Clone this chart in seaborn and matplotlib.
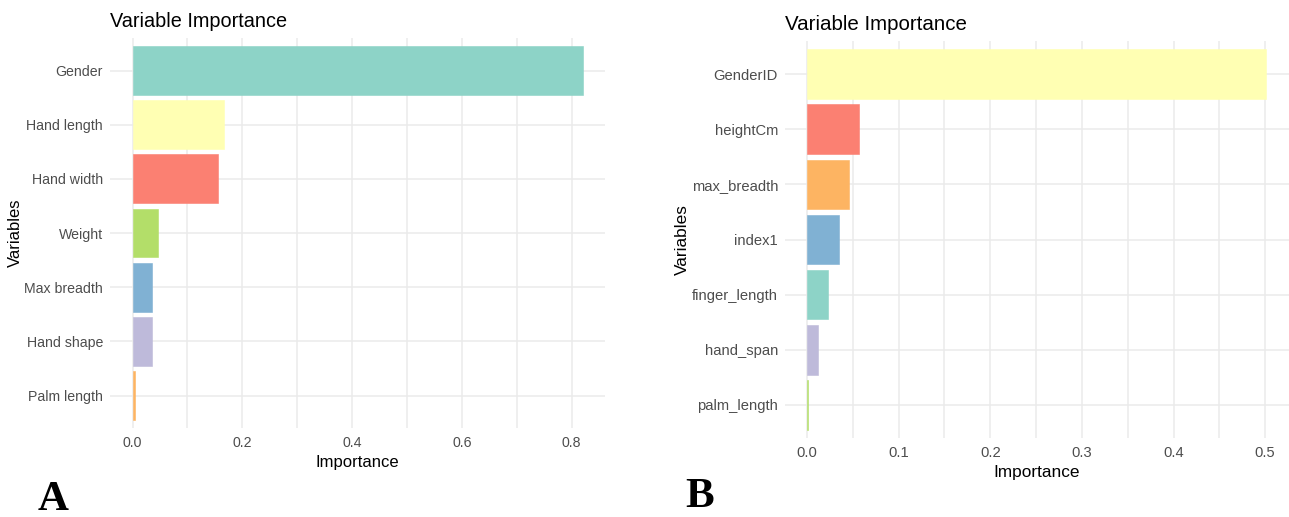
import matplotlib
matplotlib.use("Agg")
import matplotlib.pyplot as plt
import seaborn as sns
import pandas as pd

# Panel A data
vars_a = ["Gender", "Hand length", "Hand width", "Weight", "Max breadth", "Hand shape", "Palm length"]
imp_a = [0.821, 0.166, 0.155, 0.047, 0.035, 0.035, 0.004]
colors_a = ["#8DD3C7", "#FFFFB3", "#FB8072", "#B3DE69", "#80B1D3", "#BEBADA", "#FDB462"]

# Panel B data
vars_b = ["GenderID", "heightCm", "max_breadth", "index1", "finger_length", "hand_span", "palm_length"]
imp_b = [0.501, 0.057, 0.0455, 0.035, 0.023, 0.012, 0.0015]
colors_b = ["#FFFFB3", "#FB8072", "#FDB462", "#80B1D3", "#8DD3C7", "#BEBADA", "#B3DE69"]

sns.set_theme(style="white")
plt.rcParams["font.family"] = ["Liberation Sans", "DejaVu Sans"]

W, H = 1289, 517
fig = plt.figure(figsize=(W / 100, H / 100), dpi=100)
fig.patch.set_facecolor("white")


def box(l, t, r, b):
    return [l / W, 1 - b / H, (r - l) / W, (b - t) / H]


def panel(ax, names, vals, cols, xlim, major, minor, tick_fs, title_fs, lab_fs):
    df = pd.DataFrame({"Variables": names, "Importance": vals})
    sns.barplot(data=df, x="Importance", y="Variables", hue="Variables",
                palette=dict(zip(names, cols)), order=names, hue_order=names,
                width=0.9, saturation=1, legend=False, ax=ax,
                linewidth=0)
    for p in ax.patches:
        p.set_edgecolor(p.get_facecolor())
        p.set_linewidth(0.4)
    ax.set_xlim(*xlim)
    ax.set_ylim(len(names) - 1 + 0.6, -0.6)
    ax.set_xticks(major)
    ax.set_xticklabels([f"{v:.1f}" for v in major])
    ax.set_xticks(minor, minor=True)
    ax.set_axisbelow(True)
    ax.grid(True, which="major", axis="both", color="#EBEBEB", linewidth=1.1)
    ax.grid(True, which="minor", axis="x", color="#EBEBEB", linewidth=1.1)
    for s in ax.spines.values():
        s.set_visible(False)
    ax.tick_params(axis="both", which="both", length=0, colors="#4D4D4D",
                   labelsize=tick_fs)
    ax.tick_params(axis="y", pad=5)
    ax.tick_params(axis="x", pad=6)
    ax.set_xlabel("Importance", fontsize=lab_fs, color="black", labelpad=3)
    ax.set_ylabel("Variables", fontsize=lab_fs, color="black", labelpad=1)
    ax.set_title("Variable Importance", fontsize=title_fs, loc="left",
                 color="black", pad=8)


ax1 = fig.add_axes(box(110, 38, 605, 428))
panel(ax1, vars_a, imp_a, colors_a, (-0.041, 0.861),
      [0.0, 0.2, 0.4, 0.6, 0.8], [0.1, 0.3, 0.5, 0.7],
      10.2, 14.3, 12)

ax2 = fig.add_axes(box(785, 41, 1289, 438))
panel(ax2, vars_b, imp_b, colors_b, (-0.024, 0.526),
      [0.0, 0.1, 0.2, 0.3, 0.4, 0.5], [0.05, 0.15, 0.25, 0.35, 0.45],
      10.6, 14.8, 12.4)

fig.text(38 / W, 1 - 510 / H, "A", fontsize=31, fontweight="bold", color="black",
         family="Liberation Serif", ha="left", va="baseline")
fig.text(685 / W, 1 - 507 / H, "B", fontsize=31, fontweight="bold", color="black",
         family="Liberation Serif", ha="left", va="baseline")

fig.savefig("out.png", dpi=100, facecolor="white")
